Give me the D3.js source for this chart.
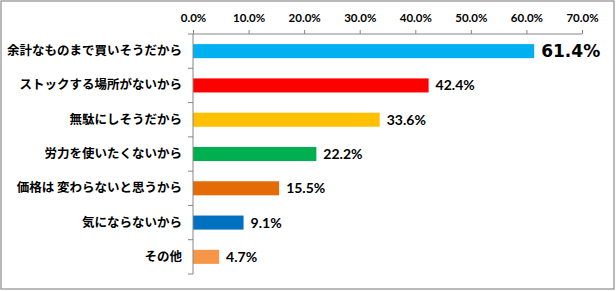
<!DOCTYPE html>
<html><head><meta charset="utf-8">
<script src="https://cdn.jsdelivr.net/npm/d3@7"></script>
<style>body{margin:0;background:#fff}svg{display:block}</style>
</head><body>
<script>
const categories = ["余計なものまで買いそうだから","ストックする場所がないから","無駄にしそうだから","労力を使いたくないから","価格は 変わらないと思うから","気にならないから","その他"];
const values = [61.4, 42.4, 33.6, 22.2, 15.5, 9.1, 4.7];
const colors = ["#00B0F0","#FF0000","#FFC000","#00B050","#E36C09","#0070C0","#F79646"];
const ticks = [0,10,20,30,40,50,60,70];

const W = 616, H = 291;
const svg = d3.select("body").append("svg").attr("width", W).attr("height", H);
svg.append("rect").attr("x",1).attr("y",1).attr("width",613).attr("height",288)
  .attr("fill","#fff").attr("stroke","#8c8c8c").attr("stroke-width",1.2);

const x = d3.scaleLinear().domain([0,70]).range([193,582]);
const y = d3.scaleBand().domain(categories).range([34,274]).paddingInner(0.59).paddingOuter(0.295);
const yb = d3.scaleBand().domain(categories).range([34,274]);

// bars
svg.selectAll("rect.bar").data(values).join("rect").attr("class","bar")
  .attr("x", x(0)).attr("y",(d,i)=>y(categories[i]))
  .attr("width", d=>x(d)-x(0)).attr("height", y.bandwidth())
  .attr("fill",(d,i)=>colors[i]);

// top axis
const ax = svg.append("g").attr("transform","translate(0,34)")
  .call(d3.axisTop(x).tickValues(ticks).tickSize(4).tickPadding(8).tickFormat(d=>d.toFixed(1)+"%"));
ax.select(".domain").attr("stroke","#868686").attr("d",`M${x(0)},0H${x(70)}`);
ax.selectAll(".tick line").attr("stroke","#868686");
ax.selectAll(".tick text").attr("fill","#000").style("font-family","Lato, 'Liberation Sans', sans-serif")
  .style("font-weight","bold").style("font-size","11.5px");

// left axis
const ay = svg.append("g").attr("transform",`translate(${x(0)},0)`)
  .call(d3.axisLeft(yb).tickSize(0).tickPadding(11));
ay.select(".domain").attr("stroke","#868686").attr("d",`M0,34V274`);
ay.selectAll(".tick text").attr("fill","#000")
  .style("font-family","'Noto Sans CJK JP', sans-serif").style("font-weight","bold").style("font-size","12.5px");
// category separator ticks
svg.append("g").selectAll("line").data(d3.range(categories.length+1)).join("line")
  .attr("x1",x(0)-5).attr("x2",x(0))
  .attr("y1",i=>34+i*yb.step()).attr("y2",i=>34+i*yb.step())
  .attr("stroke","#868686");

// value labels
svg.selectAll("text.val").data(values).join("text").attr("class","val")
  .attr("x", d=>x(d)+7).attr("y",(d,i)=>y(categories[i])+y.bandwidth()/2)
  .attr("dy","0.36em")
  .style("font-family",(d,i)=> i===0 ? "'DejaVu Sans', sans-serif" : "Lato, 'Liberation Sans', sans-serif")
  .style("font-weight","bold")
  .style("font-size",(d,i)=> i===0 ? "17px" : "14px")
  .text(d=>d.toFixed(1)+"%");
</script>
</body></html>
